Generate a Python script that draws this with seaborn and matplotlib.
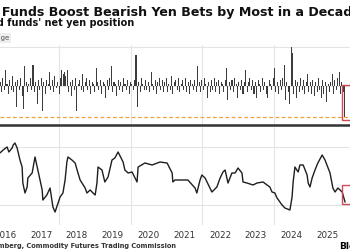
import numpy as np
import pandas as pd
import matplotlib
matplotlib.use("Agg")
import matplotlib.pyplot as plt
import seaborn as sns
from matplotlib.patches import Rectangle

# ---------------- data ----------------
title = "Hedge Funds Boost Bearish Yen Bets by Most in a Decade"
subtitle = "Leveraged funds' net yen position"
legend_label = "Weekly change"
source = "Source: Bloomberg, Commodity Futures Trading Commission"
brand = "Bloomberg"

# two-weekly change in net position (thousand contracts)
weekly_change = [
    2, -3, 4, -2, 8, 1, -4, 3, -2, 5, -3, 2,
    -11, 3, -2, 4, -5, -12, 10, 2, -3, 1, 4, -2,
    11, -3, 2, -9, 3, -2, 4, -13, 2, -4, 3, 1,
    7, -2, 3, -3, 5, -1, 2, -4, 4, 8, 6, 7,
    5, 8, -3, 2, -5, 3, -2, 4, -13, 1, 3, -2,
    6, -3, 2, 4, -2, 3, -4, 2, 1, -3, 9, 2,
    -2, 3, -4, 2, 1, -6, 3, -2, 4, 10, -3, 2,
    1, -5, 3, -2, 2, -3, 4, 1, -2, 3, -4, 2,
    1, -2, 3, 16, -11, 2, -3, 4, 1, -2, 3, -2,
    2, -3, 7, 1, -2, 3, -4, 2, 4, -2, 3, -3,
    2, 4, -3, 1, -2, 5, -4, 2, 3, -2, 4, -3,
    1, 3, -2, 4, -3, 2, -4, 3, 1, -2, 3, -3,
    10, 2, -3, 3, -2, 4, 1, -6, 2, -3, 3, -2,
    4, -3, 2, 3, -4, 2, 1, -3, 3, 9, -7, 2,
    -2, 3, -3, 4, 1, -6, 2, -2, 3, -4, 2, 8,
    -3, 2, 4, -2, 3, -4, 2, -6, 3, 1, -3, 4,
    -2, 2, -4, -6, 3, 1, -2, 4, 9, -3, 2, -4,
    3, -2, 4, 11, -7, 2, -3, -9, 20, 17, -4, 3,
    -6, 2, -3, 4, -2, 3, -4, 2, 6, -3, 2, -4,
    3, -5, 2, -3, 4, -2, -6, 3, -4, 2, -8, 1,
    -3, 2, 6, -4, 3, -2, 4, 7, -4, 2, -3, -16,
]
bar_start = "2016-05-10"

# net position (thousand contracts), dates as decimal years
line_years = [
    2016.35, 2016.44, 2016.55, 2016.60, 2016.69, 2016.72, 2016.77, 2016.83, 2016.91, 2016.97,
    2016.99, 2017.05, 2017.11, 2017.13, 2017.25, 2017.33, 2017.47, 2017.53, 2017.55, 2017.66,
    2017.75, 2017.83, 2017.89, 2018.03, 2018.11, 2018.17, 2018.22, 2018.25, 2018.36, 2018.45,
    2018.53, 2018.59, 2018.73, 2018.78, 2018.87, 2018.95, 2019.01, 2019.06, 2019.09, 2019.20,
    2019.28, 2019.37, 2019.48, 2019.56, 2019.65, 2019.79, 2019.84, 2019.93, 2020.04, 2020.18,
    2020.21, 2020.40, 2020.60, 2020.82, 2021.02, 2021.16, 2021.18, 2021.24, 2021.44, 2021.60,
    2021.80, 2021.85, 2021.94, 2021.99, 2022.08, 2022.27, 2022.41, 2022.50, 2022.58, 2022.64,
    2022.72, 2022.83, 2022.92, 2023.00, 2023.11, 2023.14, 2023.25, 2023.42, 2023.53, 2023.70,
    2023.81, 2023.89, 2023.95, 2024.03, 2024.09, 2024.23, 2024.31, 2024.45, 2024.51, 2024.54,
    2024.59, 2024.68, 2024.73, 2024.82, 2024.93, 2024.96, 2025.01, 2025.07, 2025.15, 2025.23,
    2025.35, 2025.43, 2025.57, 2025.65, 2025.71, 2025.79, 2025.91, 2025.99,
]
net_position = [
    39.7, 44.8, 50.0, 41.4, 48.3, 53.4, 56.9, 48.3, 27.6, 15.5,
    -12.1, -29.3, -19.0, -3.4, 5.2, 32.8, -6.9, -24.1, -41.4, -32.8,
    -20.7, -53.4, -62.1, -36.2, -29.3, -6.9, 24.1, 32.8, 27.6, 22.4,
    5.2, -6.9, -20.7, -29.3, -24.1, -29.3, -32.8, -12.1, 15.5, 10.3,
    -10.3, -1.7, 27.6, 31.0, 41.4, 24.1, 10.3, 5.2, 6.9, -10.3,
    15.5, 22.4, 19.0, 24.1, 22.4, 5.2, -10.3, -6.9, -6.9, -6.9,
    -20.7, -29.3, -6.9, 1.7, -3.4, -27.6, -19.0, -3.4, 6.9, 10.3,
    -12.1, 5.2, 5.2, 13.8, 5.2, -10.3, -12.1, -15.5, -12.1, -10.3,
    -15.5, -19.0, -27.6, -29.3, -37.9, -50.0, -55.2, -58.6, -36.2, -10.3,
    15.5, 6.9, 19.0, 19.0, 1.7, -12.1, -19.0, -3.4, 10.3, 22.4,
    36.2, 27.6, 5.2, -20.7, -27.6, -20.7, -27.6, -45.0,
]

year_labels = ["2016", "2017", "2018", "2019", "2020", "2021", "2022", "2023", "2024", "2025"]
grid_years = [2018, 2020, 2022, 2024]

# ---------------- styling ----------------
sns.set_theme(style="white")
plt.rcParams["font.family"] = ["DejaVu Sans"]

W, H = 350, 250
fig = plt.figure(figsize=(3.5, 2.5), dpi=100)
fig.patch.set_facecolor("white")

def fx(px):
    return px / W

def fy(py):
    return 1 - py / H

ax1 = fig.add_axes([0, fy(125), 1, (125 - 45) / H])
ax2 = fig.add_axes([0, fy(225), 1, (225 - 127) / H])

bar_dates = pd.date_range(bar_start, periods=len(weekly_change), freq="14D")
bar_x = bar_dates.year + (bar_dates.dayofyear - 1) / 365.25
df_bar = pd.DataFrame({"x": np.asarray(bar_x), "v": weekly_change})
df_line = pd.DataFrame({"x": line_years, "v": net_position})

sns.barplot(data=df_bar, x="x", y="v", native_scale=True, color="#3c3c3c",
            saturation=1, width=0.8, errorbar=None, linewidth=0, ax=ax1)
sns.lineplot(data=df_line, x="x", y="v", color="#1e1e1e", linewidth=1.0, ax=ax2)

xlim = (2016.352, 2026.128)
for ax in (ax1, ax2):
    ax.set_xlim(*xlim)
    ax.set_xticks(grid_years)
    ax.grid(True, which="major", color="#e4e4e4", linewidth=0.8)
    ax.set_axisbelow(True)
    ax.set_xlabel("")
    ax.set_ylabel("")
    ax.tick_params(axis="both", which="both", length=0, labelleft=False,
                   labelbottom=False, labelright=False)
    for s in ax.spines.values():
        s.set_visible(False)

ax1.set_ylim(-20, 21)
ax1.set_yticks([0, 20])
ax1.spines["bottom"].set_visible(True)
ax1.spines["bottom"].set_color("#333333")
ax1.spines["bottom"].set_linewidth(1.8)

ax2.set_ylim(-84.5, 84.5)
ax2.set_yticks([-50, 50])

mid_years = [int(y) + 0.5 for y in year_labels]
ax2.set_xticks(mid_years, minor=True)
ax2.set_xticklabels(year_labels, minor=True)
ax2.tick_params(axis="x", which="minor", labelbottom=True, labelsize=6.3,
                labelcolor="#333333", pad=4)

# latest change reference line
last_change = weekly_change[-1]
ax1.axhline(last_change, color="#eea23a", linestyle=(0, (3, 2)), linewidth=0.9, zorder=1)

# highlight boxes around latest readings
red = "#cc4b55"
lx = bar_x[-1]
ax1.add_patch(Rectangle((lx - 0.08, last_change - 1.5), 0.3, -last_change + 2,
                        fill=False, edgecolor=red, linewidth=1.0, clip_on=False, zorder=5))
tail = net_position[-3:]
ax2.add_patch(Rectangle((line_years[-1] - 0.08, min(tail) - 3), 0.3, max(tail) - min(tail) + 8,
                        fill=False, edgecolor=red, linewidth=1.0, clip_on=False, zorder=5))

# ---------------- texts ----------------
r = fig.canvas.get_renderer()
title_size = 9.1
t_title = fig.text(0, fy(16), title, fontsize=title_size, fontweight="bold", color="#111111",
                   ha="left", va="baseline")
probe = fig.text(0, 0, "Hedge ", fontsize=title_size, fontweight="bold")
off = probe.get_window_extent(r).width
probe.remove()
t_title.set_x(fx(2 - off))

fig.text(fx(134), fy(26.5), subtitle, fontsize=7.0, fontweight="bold", color="#111111",
         ha="right", va="baseline")
fig.text(fx(9), fy(40), legend_label, fontsize=5, color="#555555", ha="right", va="baseline",
         bbox=dict(boxstyle="square,pad=0.35", facecolor="#eeeeee", edgecolor="none"))

fig.text(fx(176), fy(248), source, fontsize=4.8, fontweight="bold", color="#333333",
         ha="right", va="baseline")
fig.text(fx(339), fy(249), brand, fontsize=6.5, fontweight="bold", color="#000000",
         ha="left", va="baseline")

fig.savefig("out.png", dpi=100)
